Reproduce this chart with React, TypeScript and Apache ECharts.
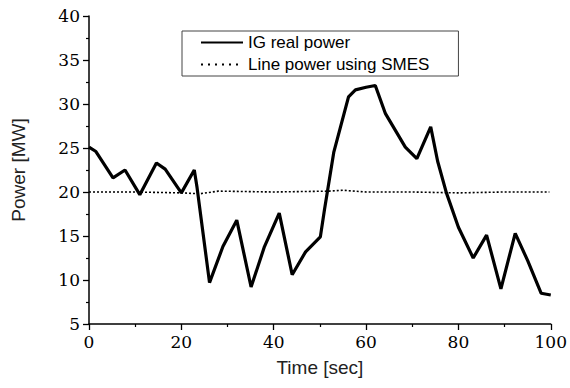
import React, { useEffect, useRef } from "react";
import * as echarts from "echarts";

const igTime = [0, 1.5, 5.2, 7.8, 11, 14.6, 16.5, 20, 22.8, 23.4, 26.1, 29, 32, 35.1, 38, 41.2, 44, 46.9, 50.1, 51, 53, 56.2, 57.7, 60, 62, 64.2, 68.5, 71, 74, 75.5, 77.4, 80, 83.2, 86.1, 89.2, 92.3, 95, 97.9, 100];
const igPower = [25.1, 24.6, 21.6, 22.5, 19.7, 23.3, 22.6, 19.9, 22.5, 20.5, 9.7, 13.8, 16.8, 9.2, 13.8, 17.6, 10.6, 13.2, 14.9, 18, 24.5, 30.8, 31.6, 31.9, 32.1, 28.9, 25.1, 23.8, 27.4, 23.5, 19.9, 16, 12.5, 15.1, 9.0, 15.3, 12.2, 8.5, 8.3];

const smesTime = [0, 10, 20, 24, 28, 40, 52, 55, 60, 70, 80, 90, 99.7];
const smesPower = [20.0, 20.0, 19.9, 19.8, 20.1, 20.0, 20.1, 20.2, 20.0, 20.0, 19.9, 20.0, 20.0];

const xTicks = { min: 0, max: 100, interval: 20 };
const yTicks = { min: 5, max: 40, interval: 5 };

const seriesNames = ["IG real power", "Line power using SMES"];

const sans = "Liberation Sans";

export default function App() {
  const ref = useRef<HTMLDivElement>(null);
  useEffect(() => {
    if (!ref.current) return;
    const chart = echarts.init(ref.current, undefined, { renderer: "svg" });
    chart.setOption({
      animation: false,
      backgroundColor: "#fff",
      grid: { left: 89, right: 17, top: 16, bottom: 64 },
      legend: {
        orient: "vertical",
        left: 182,
        top: 31,
        padding: [3, 29, 3, 18],
        itemGap: 5,
        itemWidth: 42,
        itemHeight: 14,
        borderColor: "#444",
        borderWidth: 1,
        itemStyle: { opacity: 0 },
        textStyle: { color: "#000", fontFamily: sans, fontSize: 17 },
        data: [
          { name: seriesNames[0], lineStyle: { width: 2 } },
          { name: seriesNames[1], lineStyle: { width: 2, type: [2, 5] } },
        ],
      },
      xAxis: {
        type: "value",
        min: xTicks.min,
        max: xTicks.max,
        interval: xTicks.interval,
        splitLine: { show: false },
        axisLine: { show: true, lineStyle: { color: "#000", width: 1.5 } },
        axisTick: { show: true, inside: false, length: 6, lineStyle: { color: "#000", width: 1.3 } },
        minorTick: { show: true, splitNumber: 2, length: 3, lineStyle: { color: "#000", width: 1.2 } },
        axisLabel: { show: true, color: "#000000", fontFamily: "DejaVu Serif", fontSize: 17, margin: 9 },
        name: "Time [sec]",
        nameLocation: "middle",
        nameGap: 34,
        nameTextStyle: { color: "#222", fontFamily: sans, fontSize: 19 },
      },
      yAxis: {
        type: "value",
        min: yTicks.min,
        max: yTicks.max,
        interval: yTicks.interval,
        splitLine: { show: false },
        axisLine: { show: true, lineStyle: { color: "#000", width: 1.5 } },
        axisTick: { show: true, inside: false, length: 6, lineStyle: { color: "#000", width: 1.3 } },
        minorTick: { show: true, splitNumber: 2, length: 3, lineStyle: { color: "#000", width: 1.2 } },
        axisLabel: { show: true, color: "#000000", fontFamily: "DejaVu Serif", fontSize: 17, margin: 9 },
        name: "Power [MW]",
        nameLocation: "middle",
        nameGap: 61,
        nameTextStyle: { color: "#222", fontFamily: sans, fontSize: 19 },
      },
      series: [
        {
          name: seriesNames[0],
          type: "line",
          symbol: "none",
          data: igTime.map((t, i) => [t, igPower[i]]),
          lineStyle: { color: "#000", width: 3.2 },
          itemStyle: { color: "#000" },
        },
        {
          name: seriesNames[1],
          type: "line",
          symbol: "none",
          data: smesTime.map((t, i) => [t, smesPower[i]]),
          lineStyle: { color: "#000", width: 1.6, type: [2, 2] },
          itemStyle: { color: "#000" },
        },
      ],
    });
    return () => chart.dispose();
  }, []);
  return <div ref={ref} style={{ width: 570, height: 388, position: "absolute", left: 0, top: 0 }} />;
}
